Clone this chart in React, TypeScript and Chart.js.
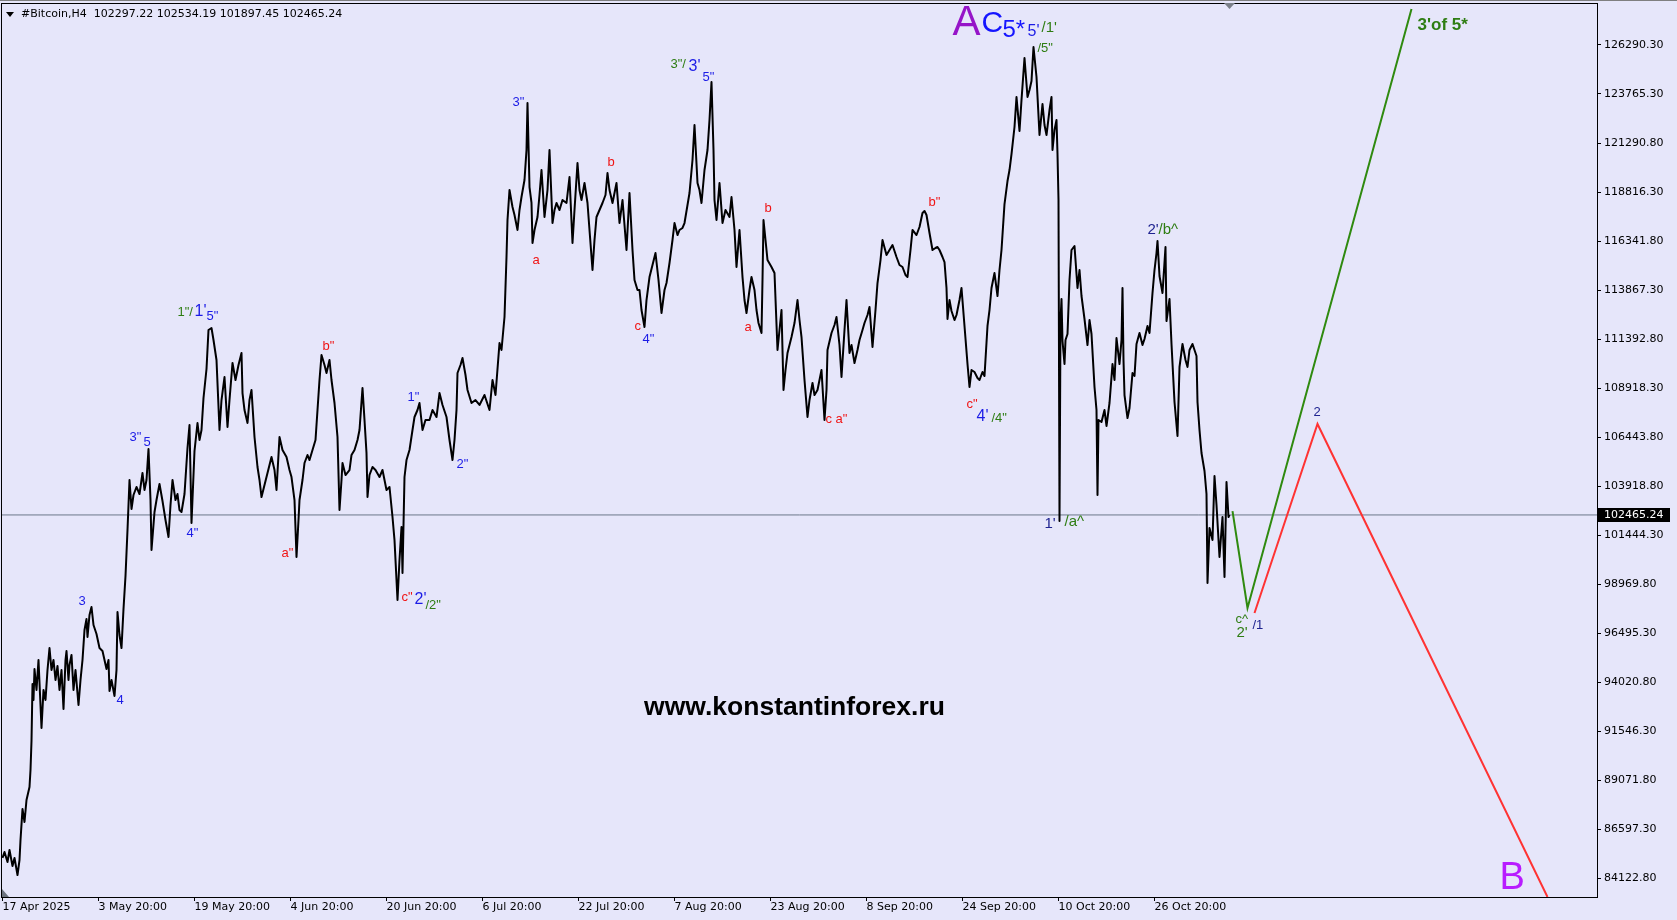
import React, { useEffect, useRef } from 'react';
import { Chart, registerables } from 'chart.js';

Chart.register(...registerables);

// ---------- data ----------
const SYMBOL = '#Bitcoin,H4';
const LAST_BAR_OHLC = ['102297.22', '102534.19', '101897.45', '102465.24'];
const CURRENT_PRICE = 102465.24;

const X_TICK_BARS = [0, 96, 192, 288, 384, 480, 576, 672, 768, 864, 960, 1056, 1152];
const X_TICK_LABELS = ['17 Apr 2025', '3 May 20:00', '19 May 20:00', '4 Jun 20:00', '20 Jun 20:00', '6 Jul 20:00', '22 Jul 20:00', '7 Aug 20:00', '23 Aug 20:00', '8 Sep 20:00', '24 Sep 20:00', '10 Oct 20:00', '26 Oct 20:00'];

const Y_TICK_LABELS = ['84122.80', '86597.30', '89071.80', '91546.30', '94020.80', '96495.30', '98969.80', '101444.30', '103918.80', '106443.80', '108918.30', '111392.80', '113867.30', '116341.80', '118816.30', '121290.80', '123765.30', '126290.30'];
const Y_TICK_BASE = 84122.8;
const Y_TICK_STEP = 2474.5;
const Y_MIN = 83178.8;
const Y_MAX = 128307.8;
const X_MIN = -0.5;
const X_MAX = 1594.5;

// price path [bar, price]
const SEG_APR_MAY = [[0,85147],[2,85450],[5,84945],[7,85551],[10,84743],[12,85147],[15,84289],[17,85046],[18,86056],[20,87621],[22,86964],[24,88075],[27,88731],[28,89589],[29,91053],[30,93931],[31,93123],[32,94688],[34,93628],[36,95142],[39,91710],[41,93628],[43,93123],[45,94637],[47,95748],[49,94637],[51,95142],[53,94133],[55,94839],[57,93628],[59,94637],[61,92669],[63,95142],[64,95597],[66,94133],[67,94890],[69,95395],[71,93628],[73,94637],[76,92871],[78,94133],[80,95142],[82,96657],[84,97212],[85,96303],[87,97414],[89,97818],[91,96909],[94,96455],[97,95748],[100,95597],[102,95142],[104,94688],[106,95142],[107,93577],[109,94133],[112,93325],[114,94637],[115,97565],[117,96404],[119,95748],[121,97717],[123,99383],[125,101705],[127,104229],[129,102765],[131,103471],[134,103875],[137,103522],[140,104582],[142,103724],[144,104229],[146,105793],[148,103219],[149,100695],[152,102613],[154,103219],[157,104027],[160,103169],[163,102209],[166,101351],[168,102967],[170,104229],[173,103219],[175,103522],[177,102714],[179,102613],[182,103522],[185,105844],[187,107005],[189,102058],[192,105693],[195,107106],[197,106248],[199,106753],[201,108368],[204,109832],[206,111801],[209,111902]];
const SEG_MAY_JUN = [[211,111296],[214,110286],[217,106753],[219,108267],[222,109428],[225,106904],[227,108267],[230,110135],[233,109277],[236,110034],[239,110640],[240,108620],[242,107762],[245,107106],[247,108267],[249,108772],[252,106399],[255,104885],[257,104229],[259,103370],[262,103976],[264,104380],[267,104986],[269,105390],[272,104733],[274,103724],[277,106399],[280,105743],[284,105390],[287,104733],[289,104380],[292,103219],[294,100342],[296,102209],[297,103219],[300,104229],[302,105087],[305,105491],[307,105238],[310,105743],[313,106248],[315,107762],[317,109277],[319,110539],[322,110034],[324,109630],[327,110286],[329,109277],[332,108116],[335,106399],[337,102714],[339,104229],[340,105087],[343,104481],[347,104733],[349,105491],[352,105743],[355,106248],[357,106753],[360,108873],[362,107257],[364,105592],[365,103370],[367,104481],[370,104885],[373,104733],[377,104380],[380,104733],[384,103724],[387,103875],[390,102361],[392,101200],[395,98171],[397,100190],[399,101856],[400,99534],[402,104380],[404,105238],[407,105743],[410,106753],[412,107409],[415,107762],[417,108116],[420,106753],[423,107257],[427,107257],[430,107762],[434,107409],[437,108620],[440,108015],[444,107409],[447,106248],[450,105238],[452,106248],[454,107762],[455,109630],[458,110034],[460,110387],[463,109529],[465,108772],[469,108116],[473,108267],[477,108015]];
const SEG_JUL_AUG = [[482,108519],[487,107762],[490,109277],[493,108519],[497,111144],[499,110791],[502,112457],[504,115486],[505,117353],[507,118868],[510,118010],[512,117606],[515,116849],[517,117858],[519,118514],[522,119373],[524,120887],[525,123260],[527,119019],[529,118212],[530,116192],[532,116849],[535,117505],[537,118615],[539,119877],[542,117505],[545,118868],[547,120887],[550,117202],[552,117858],[554,118212],[557,117858],[560,118363],[564,118212],[567,119524],[570,116192],[572,117858],[575,120231],[577,118868],[579,118363],[582,119221],[585,118212],[587,116849],[590,114829],[592,116344],[594,117505],[597,117858],[600,118212],[603,118615],[605,119726],[607,118868],[610,118212],[614,119221],[617,117202],[620,118363],[624,115839],[627,118716],[630,115839],[632,114325],[635,113820],[637,113820],[639,112810],[642,111952],[644,113315],[647,114476],[650,115082],[653,115688],[656,114325],[659,112659],[662,113820],[664,114173],[667,115183],[670,116344],[672,117202],[675,116596],[677,116849],[680,116950],[682,117202],[685,118111],[687,118716],[690,120382],[692,122149],[695,119221],[697,118868],[699,118212],[702,119877],[705,120887],[707,122401],[709,124320],[711,120887],[712,118363],[714,117353],[717,119221],[720,117202],[723,117858],[727,117505]];
const SEG_AUG_SEP = [[729,118514],[732,116849],[734,114981],[737,116849],[740,114476],[742,113315],[744,112659],[747,113820],[749,114476],[752,113820],[754,112810],[756,112154],[759,111649],[760,114325],[761,117353],[763,116344],[765,115334],[769,114981],[772,114678],[775,110791],[777,111801],[779,112810],[781,108772],[783,109781],[785,110640],[789,111447],[792,112154],[795,113315],[797,112305],[799,111447],[802,109277],[805,107409],[807,108267],[810,109125],[812,108519],[815,108772],[819,109781],[822,107257],[824,108772],[825,110791],[829,111649],[832,112053],[834,112457],[837,111043],[839,109428],[842,111801],[844,113315],[847,110640],[849,111043],[852,110135],[855,110791],[857,111296],[860,111801],[862,112154],[865,112558],[867,112962],[870,110942],[873,112810],[875,114173],[878,115334],[880,116344],[884,115587],[887,115839],[890,116091],[894,115486],[897,115082],[900,114981],[903,114577],[905,114476],[908,115839],[910,116849],[914,116596],[917,117000],[920,117707],[922,117808],[924,117606],[927,116697],[930,115839],[933,115940],[935,115991],[937,115839],[940,115486],[942,115233],[944,113921],[945,112356],[947,113315],[949,112760],[952,112305],[954,112558],[957,113315],[959,113921],[962,112003],[965,110084],[967,108923],[969,109781],[972,109680],[975,109378],[977,109277],[980,109680],[982,109479]];
const SEG_SEP_OCT = [[985,112003],[987,112810],[989,113921],[992,114678],[995,113517],[997,114829],[999,115839],[1002,118161],[1005,119322],[1007,119877],[1009,120685],[1012,122048],[1014,123562],[1017,121846],[1019,123411],[1022,125531],[1025,123562],[1027,123916],[1029,124370],[1031,126086],[1034,124572],[1037,121644],[1040,123209],[1042,122149],[1044,121644],[1047,122906],[1049,123562],[1050,120887],[1052,121897],[1054,122401],[1055,120685],[1056,118363],[1057,102159],[1058,112305],[1059,113365],[1060,111245],[1062,110084],[1063,111296],[1065,111599],[1067,114325],[1069,115839],[1072,116041],[1075,113921],[1077,114829],[1079,113517],[1082,112356],[1085,111043],[1087,112305],[1089,111599],[1092,108923],[1094,107762],[1095,103471],[1096,107257],[1099,107156],[1102,107762],[1104,106955],[1107,108116],[1110,110084],[1112,109277],[1114,111397],[1117,110084],[1119,111296],[1120,113921],[1121,110286],[1122,108519],[1125,107358],[1127,107863],[1130,109630],[1132,109479],[1134,111094],[1137,111649],[1140,111043],[1142,111346],[1145,112003],[1147,111649],[1150,113668],[1152,114829],[1154,115688],[1155,116293]];
const SEG_OCT_NOV = [[1157,114527],[1160,113668],[1163,115990],[1164,112255],[1167,113365],[1169,111094],[1172,108166],[1175,106450],[1177,109933],[1180,111094],[1183,110286],[1185,109933],[1187,110791],[1190,111094],[1194,110488],[1195,108166],[1197,106753],[1199,105592],[1202,104683],[1204,103522],[1205,99029],[1207,101806],[1210,101200],[1212,104431],[1214,102966],[1217,100342],[1220,102361],[1222,99332],[1224,104128],[1226,102361],[1227,102465.24]];

// forecast paths [bar, price]
const GREEN_PATH = [[1230,102660],[1245,97770],[1409,128000]];
const RED_PATH = [[1252,97515],[1315,107055],[1545,83180]];

// wave labels [text, bar, price, style]
const WAVE_LABELS: [string, number, number, string][] = [
  ['3', 76, 98121, 'blue'],
  ['4', 114, 93123, 'blue'],
  ['3"', 127, 106399, 'blue'],
  ['5', 141, 106147, 'blue'],
  ['4"', 184, 101553, 'blue'],
  ['1"/', 175, 112709, 'green'],
  ["1'", 192, 112709, 'blueL'],
  ['5"', 204, 112507, 'blue'],
  ['b"', 320, 110958, 'red'],
  ['a"', 279, 100544, 'red'],
  ['1"', 405, 108418, 'blue'],
  ['2"', 454, 105036, 'blue'],
  ['c"', 399, 98322, 'red'],
  ["2'", 412, 98171, 'blueL'],
  ['/2"', 423, 97919, 'green'],
  ['3"', 510, 123310, 'blue'],
  ['a', 530, 115334, 'red'],
  ['b', 605, 120281, 'red'],
  ['c', 632, 112003, 'red'],
  ['4"', 640, 111346, 'blue'],
  ['3"/', 668, 125228, 'green'],
  ["3'", 686, 125077, 'blueL'],
  ['5"', 700, 124572, 'blue'],
  ['b', 762, 117959, 'red'],
  ['a', 742, 111952, 'red'],
  ['c a"', 823, 107308, 'red'],
  ['b"', 926, 118262, 'red'],
  ['c"', 964, 108035, 'red'],
  ["4'", 974, 107409, 'blueL'],
  ['/4"', 989, 107358, 'green'],
  ['A', 950, 127298, 'bigA'],
  ['C', 979, 127247, 'bigC'],
  ['5*', 1000, 126945, 'big5'],
  ["5'", 1025, 126844, 'blueL'],
  ["/1'", 1039, 127046, 'greenL'],
  ['/5"', 1035, 126036, 'green'],
  ["1'", 1042, 102007, 'navyL'],
  ['/a^', 1062, 102108, 'greenL'],
  ["2'", 1145, 116849, 'navyL'],
  ['/b^', 1156, 116849, 'greenL'],
  ['c^', 1233, 97212, 'green'],
  ["2'", 1234, 96505, 'greenL'],
  ['/1', 1250, 96909, 'navy'],
  ['2', 1311, 107661, 'navy'],
  ["3'of 5*", 1415, 127197, 'greenBold'],
  ['B', 1497, 84087, 'bigB'],
];

const WATERMARK_TEXT = 'www.konstantinforex.ru';
const WATERMARK_AT = [792, 92719];

// ---------- styles ----------
const BG = '#e6e6fa';
const LABEL_FONT = '"Liberation Sans", Arial, sans-serif';
const AXIS_FONT = '"DejaVu Sans", sans-serif';
const STYLES: Record<string, { size: number; color: string; weight?: string }> = {
  red: { size: 13, color: '#f01414' },
  blue: { size: 13, color: '#1c1ce6' },
  blueL: { size: 16, color: '#1c1ce6' },
  green: { size: 13, color: '#2e7d12' },
  greenL: { size: 15, color: '#2e7d12' },
  navy: { size: 13, color: '#1f2390' },
  navyL: { size: 15, color: '#1f2390' },
  bigA: { size: 42, color: '#9614c8' },
  bigC: { size: 30, color: '#1414ff' },
  big5: { size: 24, color: '#1414ff' },
  greenBold: { size: 17, color: '#2e7d12', weight: 'bold' },
  bigB: { size: 38, color: '#b81cff' },
};

const toXY = (arr: number[][]) => arr.map(([x, y]) => ({ x, y }));

const overlayPlugin = {
  id: 'overlay',
  beforeDraw(chart: any) {
    const ctx = chart.ctx;
    ctx.save();
    ctx.fillStyle = BG;
    ctx.fillRect(0, 0, chart.width, chart.height);
    ctx.restore();
  },
  afterDatasetsDraw(chart: any) {
    const ctx = chart.ctx;
    const xs = chart.scales.x;
    const ys = chart.scales.y;
    ctx.save();
    ctx.textAlign = 'left';
    ctx.textBaseline = 'middle';
    for (const [text, bar, price, key] of WAVE_LABELS) {
      const st = STYLES[key];
      ctx.font = `${st.weight || 'normal'} ${st.size}px ${LABEL_FONT}`;
      ctx.fillStyle = st.color;
      ctx.fillText(text, xs.getPixelForValue(bar), ys.getPixelForValue(price));
    }
    ctx.font = `bold 26.5px ${LABEL_FONT}`;
    ctx.fillStyle = '#000';
    ctx.textAlign = 'center';
    ctx.fillText(WATERMARK_TEXT, xs.getPixelForValue(WATERMARK_AT[0]), ys.getPixelForValue(WATERMARK_AT[1]));
    ctx.restore();
  },
  afterDraw(chart: any) {
    const ctx = chart.ctx;
    const a = chart.chartArea;
    const ys = chart.scales.y;
    const xs = chart.scales.x;
    ctx.save();
    // window frame line
    ctx.fillStyle = '#7f7f7f';
    ctx.fillRect(0, 0, chart.width, 1);
    // chart border
    ctx.strokeStyle = '#000';
    ctx.lineWidth = 1;
    ctx.strokeRect(Math.round(a.left) - 0.5, Math.round(a.top) + 0.5, Math.round(a.right - a.left) + 1, Math.round(a.bottom - a.top));
    // title
    ctx.fillStyle = '#000';
    ctx.beginPath();
    ctx.moveTo(a.left + 4, a.top + 9);
    ctx.lineTo(a.left + 12, a.top + 9);
    ctx.lineTo(a.left + 8, a.top + 14);
    ctx.closePath();
    ctx.fill();
    ctx.font = `11px ${AXIS_FONT}`;
    ctx.textAlign = 'left';
    ctx.textBaseline = 'middle';
    ctx.fillText(`${SYMBOL}  ${LAST_BAR_OHLC.join(' ')}`, a.left + 19, a.top + 11);
    // shift marker
    const lastBar = SEG_OCT_NOV[SEG_OCT_NOV.length - 1][0];
    const sx = xs.getPixelForValue(lastBar);
    ctx.fillStyle = '#7b8089';
    ctx.beginPath();
    ctx.moveTo(sx - 5.5, a.top);
    ctx.lineTo(sx + 5.5, a.top);
    ctx.lineTo(sx, a.top + 6);
    ctx.closePath();
    ctx.fill();
    // bottom-left marker
    ctx.fillStyle = '#6d7480';
    ctx.beginPath();
    ctx.moveTo(a.left, a.bottom - 8);
    ctx.lineTo(a.left, a.bottom);
    ctx.lineTo(a.left + 7, a.bottom);
    ctx.closePath();
    ctx.fill();
    // current price box
    const py = ys.getPixelForValue(CURRENT_PRICE);
    ctx.fillStyle = '#000';
    ctx.fillRect(a.right + 1, Math.round(py) - 7, 72, 14);
    ctx.fillStyle = '#fff';
    ctx.font = `11px ${AXIS_FONT}`;
    ctx.fillText(CURRENT_PRICE.toFixed(2), a.right + 7, Math.round(py));
    ctx.restore();
  },
};

export default function App() {
  const ref = useRef<HTMLCanvasElement>(null);
  useEffect(() => {
    document.body.style.margin = '0';
    document.body.style.background = BG;
    const priceData = toXY([...SEG_APR_MAY, ...SEG_MAY_JUN, ...SEG_JUL_AUG, ...SEG_AUG_SEP, ...SEG_SEP_OCT, ...SEG_OCT_NOV]);
    const chart = new Chart(ref.current as HTMLCanvasElement, {
      type: 'line',
      data: {
        datasets: [
          { data: toXY(GREEN_PATH), borderColor: '#2f8a0f', borderWidth: 2, pointRadius: 0, order: 0 },
          { data: toXY(RED_PATH), borderColor: '#ff3333', borderWidth: 2, pointRadius: 0, order: 0 },
          { data: priceData, borderColor: '#000', borderWidth: 2, pointRadius: 0, borderJoinStyle: 'round', order: 1 },
          { data: [{ x: X_MIN, y: CURRENT_PRICE }, { x: X_MAX, y: CURRENT_PRICE }], borderColor: '#6c7889', borderWidth: 1, pointRadius: 0, order: 2 },
        ] as any,
      },
      options: {
        responsive: false,
        animation: false,
        events: [],
        layout: { padding: { left: 2, top: 3, right: 0, bottom: 0 } },
        plugins: { legend: { display: false }, tooltip: { enabled: false } },
        elements: { line: { tension: 0 } },
        scales: {
          x: {
            type: 'linear',
            bounds: 'data',
            min: X_MIN,
            max: X_MAX,
            afterBuildTicks: (s: any) => { s.ticks = X_TICK_BARS.map((v) => ({ value: v })); },
            afterFit: (s: any) => { s.height = 23; s.paddingLeft = 0; s.paddingRight = 0; },
            ticks: {
              autoSkip: false,
              maxRotation: 0,
              minRotation: 0,
              align: 'start',
              padding: 0,
              color: '#000',
              font: { family: AXIS_FONT, size: 11 },
              callback: (_v: any, i: number) => X_TICK_LABELS[i],
            },
            grid: { drawOnChartArea: false, drawTicks: true, tickLength: 4, color: '#000' },
            border: { display: false },
          },
          y: {
            type: 'linear',
            position: 'right',
            bounds: 'data',
            min: Y_MIN,
            max: Y_MAX,
            afterBuildTicks: (s: any) => { s.ticks = Y_TICK_LABELS.map((_l, k) => ({ value: Y_TICK_BASE + k * Y_TICK_STEP })); },
            afterFit: (s: any) => { s.width = 80; s.paddingTop = 0; s.paddingBottom = 0; },
            ticks: {
              autoSkip: false,
              padding: 3,
              color: '#000',
              font: { family: AXIS_FONT, size: 11 },
              callback: (_v: any, i: number) => Y_TICK_LABELS[i],
            },
            grid: { drawOnChartArea: false, drawTicks: true, tickLength: 4, color: '#000' },
            border: { display: false },
          },
        },
      } as any,
      plugins: [overlayPlugin],
    });
    return () => chart.destroy();
  }, []);
  return (
    <div style={{ width: 1677, height: 920 }}>
      <canvas ref={ref} width={1677} height={920} style={{ display: 'block', width: 1677, height: 920 }} />
    </div>
  );
}
